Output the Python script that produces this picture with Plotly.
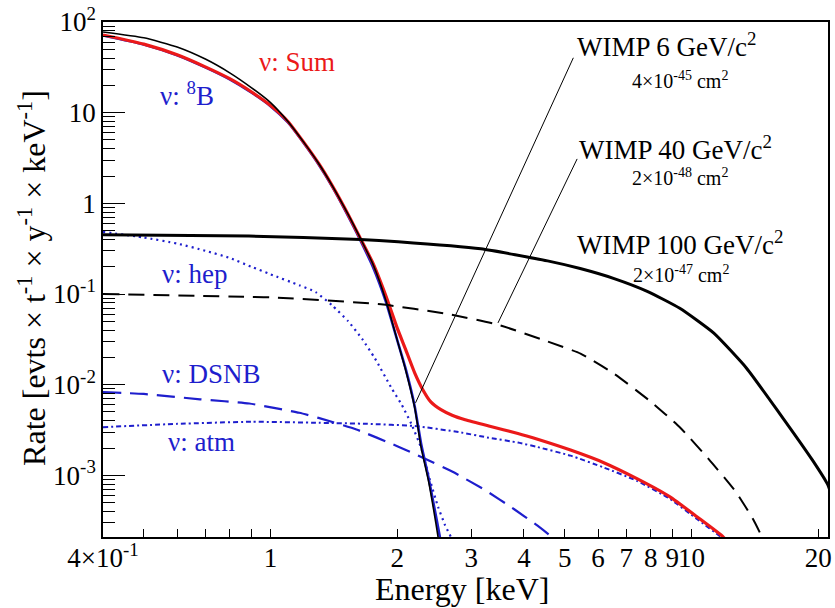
import math
import plotly.graph_objects as go

# ---------------- data ----------------
sum_e = [0.4, 0.5, 0.6, 0.7, 0.8, 0.9, 1.0, 1.1, 1.2, 1.3, 1.4, 1.53, 1.635, 1.75, 1.88, 2.0, 2.09, 2.2,
         2.3, 2.4, 2.54, 2.7, 2.9, 3.3, 3.87, 4.31, 5.16, 6.19, 7.42, 8.89, 10.3, 11.9, 12.3]
sum_r = [72, 57, 43.5, 32, 23.7, 17, 12, 8.0, 4.7, 2.77, 1.58, 0.75, 0.41, 0.22, 0.095, 0.042, 0.025, 0.0135,
         0.0088, 0.0065, 0.0053, 0.0046, 0.0041, 0.0035, 0.0029, 0.0025, 0.0019, 0.00138, 0.00092, 0.00058,
         0.00035, 0.000209, 0.00017]

b8_e = [0.4, 0.5, 0.6, 0.7, 0.8, 0.9, 1.0, 1.1, 1.2, 1.3, 1.4, 1.53, 1.635, 1.75, 1.88, 2.0, 2.09, 2.2,
        2.28, 2.37, 2.45, 2.52, 2.55]
b8_r = [71, 56.5, 43, 31.6, 23.3, 16.7, 11.8, 7.8, 4.6, 2.7, 1.54, 0.72, 0.39, 0.2, 0.082, 0.031, 0.0155,
        0.0058, 0.0022, 0.00097, 0.00044, 0.00022, 0.00016]

hep_e = [0.4, 0.5, 0.6, 0.7, 0.8, 0.9, 1.0, 1.17, 1.28, 1.4, 1.53, 1.65, 1.77, 1.94, 2.05, 2.16, 2.28, 2.39,
         2.5, 2.6, 2.68, 2.72]
hep_r = [0.485, 0.42, 0.36, 0.3, 0.25, 0.2, 0.165, 0.125, 0.105, 0.075, 0.05, 0.032, 0.0195, 0.0091, 0.006,
         0.0037, 0.002, 0.0009, 0.00045, 0.00028, 0.00021, 0.00016]

dsnb_e = [0.4, 0.5, 0.68, 0.89, 1.17, 1.3, 1.6, 2.0, 2.24, 2.7, 3.23, 3.8, 4.3, 4.65, 4.75]
dsnb_r = [0.0083, 0.0079, 0.0069, 0.0062, 0.0049, 0.0043, 0.0032, 0.0021, 0.00166, 0.0011, 0.00069, 0.00042,
          0.00028, 0.000209, 0.00018]

atm_e = [0.4, 0.6, 0.9, 1.3, 1.7, 2.2, 2.8, 3.3, 3.87, 4.31, 5.16, 6.19, 7.42, 8.89, 10.3, 11.8, 12.2]
atm_r = [0.0034, 0.0037, 0.0039, 0.0038, 0.0037, 0.0035, 0.003, 0.0026, 0.0023, 0.00205, 0.00165, 0.00122,
         0.00087, 0.00055, 0.00033, 0.000205, 0.00017]

w6_e = [0.4, 0.5, 0.6, 0.7, 0.8, 0.9, 1.0, 1.1, 1.2, 1.3, 1.4, 1.53, 1.635, 1.75, 1.88, 2.0, 2.09, 2.2,
        2.28, 2.37, 2.44, 2.5, 2.52]
w6_r = [77.6, 67, 53, 39, 27.5, 18.9, 12.9, 8.0, 4.7, 2.77, 1.58, 0.75, 0.41, 0.215, 0.085, 0.031, 0.015,
        0.0056, 0.002, 0.00089, 0.00042, 0.00021, 0.00016]

w40_e = [0.4, 0.889, 1.0, 1.83, 2.64, 3.46, 4.55, 5.45, 6.55, 7.97, 9.38, 11.0, 12.3, 12.8, 14.0, 14.7, 15.0]
w40_r = [0.1, 0.093, 0.092, 0.077, 0.06, 0.046, 0.030, 0.022, 0.0132, 0.0066, 0.0034, 0.0015, 0.00081,
         0.00064, 0.00033, 0.00021, 0.00017]

w100_e = [0.4, 0.889, 1.635, 2.01, 3.16, 4.55, 5.44, 6.55, 7.85, 9.38, 11.3, 13.5, 16.2, 19.4, 21.1, 21.5]
w100_r = [0.45, 0.435, 0.40, 0.378, 0.315, 0.232, 0.191, 0.148, 0.107, 0.0695, 0.037, 0.0153, 0.0048,
          0.00146, 0.00078, 0.0006]

# leader lines of the WIMP labels (energy, rate)
lead6_e = [2.21, 5.24]
lead6_r = [0.0063, 40.3]
lead40_e = [3.47, 5.35]
lead40_r = [0.048, 3.09]

x_ticks = [0.4, 1, 2, 3, 4, 5, 6, 7, 8, 9, 10, 20]
x_ticktext = ["4×10<sup>-1</sup>", "1", "2", "3", "4", "5", "6", "7", "8", "9", "10", "20"]
x_long = [1, 10]
x_minor = [0.5, 0.6, 0.7, 0.8, 0.9]
y_ticks = [1e-3, 1e-2, 1e-1, 1, 10, 100]
y_ticktext = ["10<sup>-3</sup>", "10<sup>-2</sup>", "10<sup>-1</sup>", "1", "10", "10<sup>2</sup>"]
y_minor = [m * 10.0 ** d for d in range(-4, 2) for m in range(2, 10)]

x_range = [0.4, 21.1]
y_range = [2.09e-4, 100]

# ---------------- styles ----------------
BLUE = "rgb(30,30,205)"
RED = "rgb(235,25,25)"
FONT = "Liberation Serif, Times New Roman, Times, serif"

fig = go.Figure()


def add(x, y, color, width, dash="solid"):
    fig.add_trace(go.Scatter(x=x, y=y, mode="lines",
                             line=dict(color=color, width=width, dash=dash, shape="spline", smoothing=0.5),
                             showlegend=False, hoverinfo="skip"))


add(dsnb_e, dsnb_r, BLUE, 2.2, "18px,9px")
add(atm_e, atm_r, BLUE, 2.0, "5px,3px,2px,3px")
add(hep_e, hep_r, BLUE, 2.2, "2px,4px")
add(b8_e, b8_r, BLUE, 2.6)
add(sum_e, sum_r, RED, 3.2)
add(w100_e, w100_r, "black", 3.0)
add(w40_e, w40_r, "black", 2.0, "16px,9px")
add(w6_e, w6_r, "black", 1.6)
fig.add_trace(go.Scatter(x=lead6_e, y=lead6_r, mode="lines", line=dict(color="black", width=1),
                         showlegend=False, hoverinfo="skip"))
fig.add_trace(go.Scatter(x=lead40_e, y=lead40_r, mode="lines", line=dict(color="black", width=1),
                         showlegend=False, hoverinfo="skip"))

L, R, T, B = 103, 3, 19, 71
W, H = 835, 608
pw, ph = W - L - R, H - T - B


def px(xp):
    return (xp - L) / pw


def py(yp):
    return (H - B - yp) / ph


lx = [math.log10(v) for v in x_range]
ly = [math.log10(v) for v in y_range]

fig.update_layout(
    width=W, height=H, margin=dict(l=L, r=R, t=T, b=B, pad=0),
    paper_bgcolor="white", plot_bgcolor="white",
    font=dict(family=FONT, color="black", size=27),
    xaxis=dict(type="log", range=lx, showgrid=False, zeroline=False, showline=True, linecolor="black",
               linewidth=1.5, mirror=True, ticks="inside", ticklen=8, tickwidth=1.2, tickcolor="black",
               tickvals=x_ticks, ticktext=x_ticktext, tickangle=0, ticklabelstandoff=-4,
               tickfont=dict(family=FONT, size=27),
               minor=dict(tickvals=x_minor, ticks="inside", ticklen=8, tickwidth=1.2, tickcolor="black",
                          showgrid=False)),
    xaxis2=dict(type="log", range=lx, overlaying="x", anchor="y", side="bottom", showgrid=False,
                zeroline=False, showline=False, ticks="inside", ticklen=16, tickwidth=1.2, tickcolor="black",
                tickvals=x_long, showticklabels=False),
    yaxis=dict(type="log", range=ly, showgrid=False, zeroline=False, showline=True, linecolor="black",
               linewidth=1.5, mirror=True, ticks="inside", ticklen=22, tickwidth=1.2, tickcolor="black",
               tickvals=y_ticks, ticktext=y_ticktext, tickfont=dict(family=FONT, size=27),
               minor=dict(tickvals=y_minor, ticks="inside", ticklen=12, tickwidth=1.2, tickcolor="black",
                          showgrid=False)),
)

ann = []


def label(text, xp, yp, size, color="black", xanchor="center", angle=0):
    ann.append(dict(text=text, x=px(xp), y=py(yp), xref="paper", yref="paper", showarrow=False,
                    xanchor=xanchor, yanchor="middle", textangle=angle,
                    font=dict(family=FONT, size=size, color=color)))


label("ν: Sum", 298, 59, 27, RED)
label("ν: <sup>8</sup>B", 187, 91, 27, BLUE)
label("ν: hep", 195, 272, 27, BLUE)
label("ν: DSNB", 212, 373, 27, BLUE)
label("ν: atm", 202, 441, 27, BLUE)
label("WIMP 6 GeV/c<sup>2</sup>", 578, 42, 27, xanchor="left")
label("4×10<sup>-45</sup> cm<sup>2</sup>", 683, 77, 20)
label("WIMP 40 GeV/c<sup>2</sup>", 580, 146, 27, xanchor="left")
label("2×10<sup>-48</sup> cm<sup>2</sup>", 683, 175, 20)
label("WIMP 100 GeV/c<sup>2</sup>", 578, 241, 27, xanchor="left")
label("2×10<sup>-47</sup> cm<sup>2</sup>", 684, 272, 20)
label("Energy [keV]", 464, 589, 32)
label("Rate [evts × t<sup>-1</sup> × y<sup>-1</sup> × keV<sup>-1</sup>]", 31, 276, 32, angle=-90)
fig.update_layout(annotations=ann)

fig.write_html("out.html")
